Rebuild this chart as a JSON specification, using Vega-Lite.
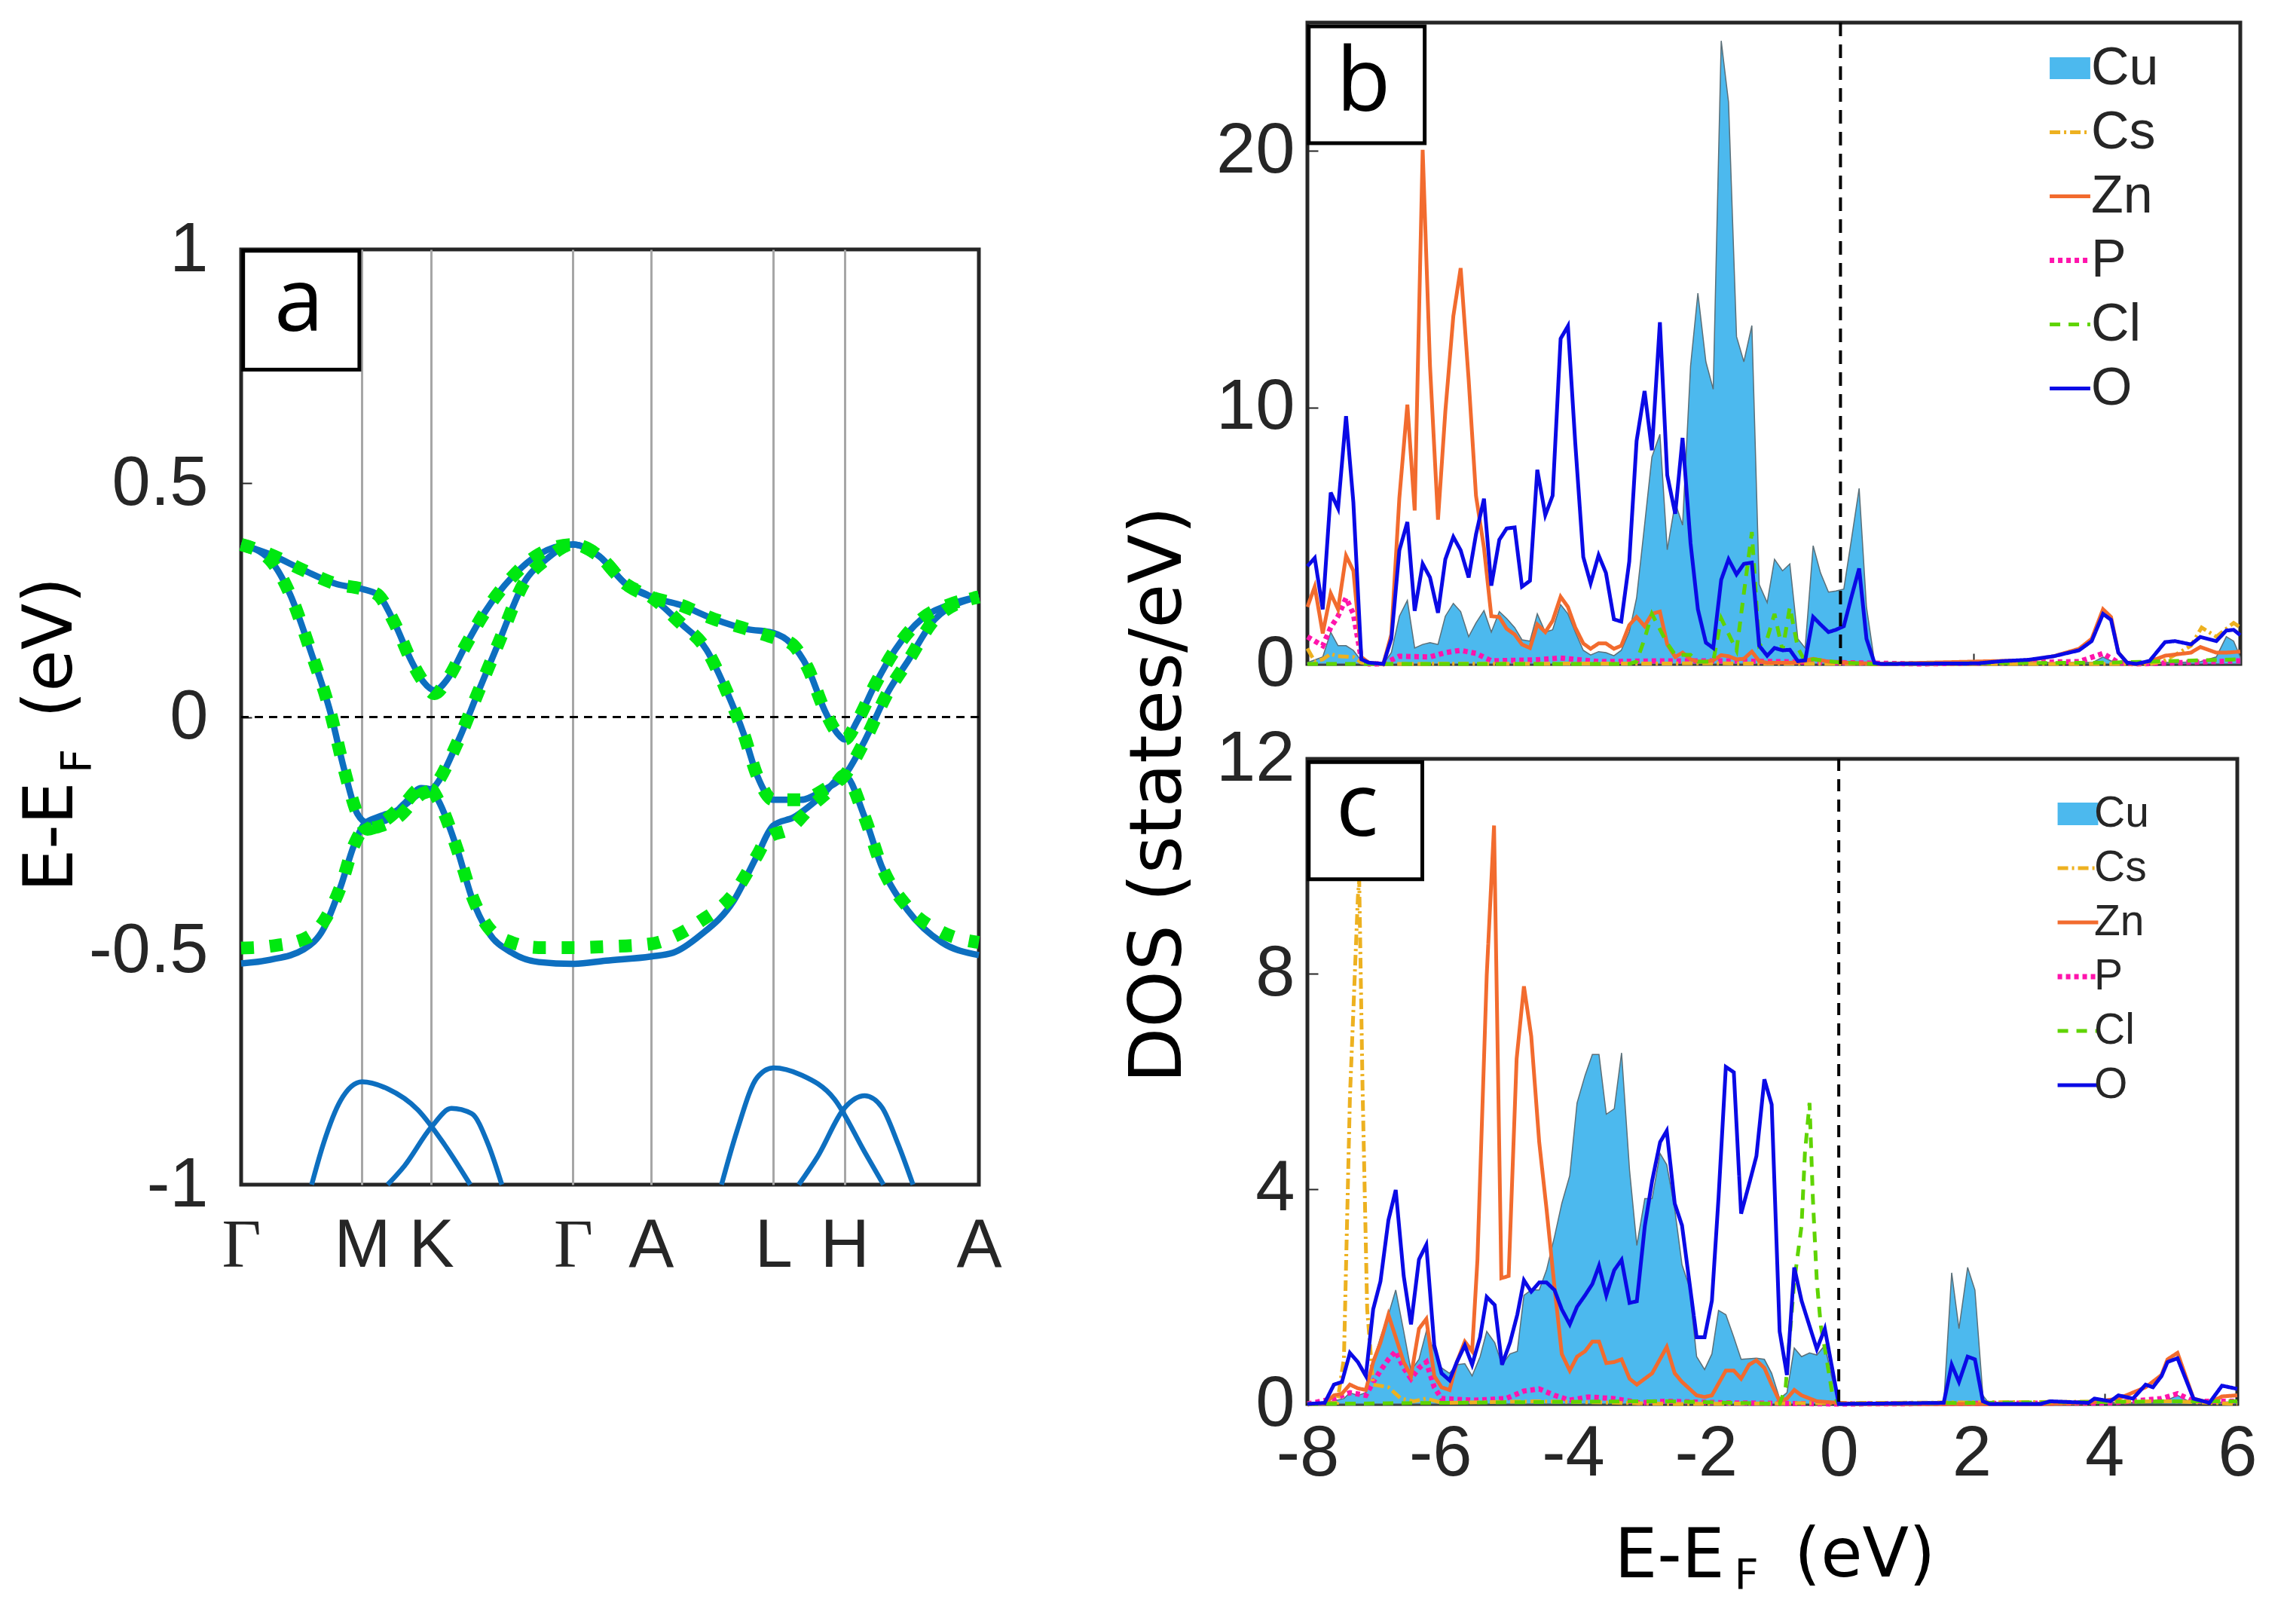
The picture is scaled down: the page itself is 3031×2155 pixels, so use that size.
{
"$schema":"https://vega.github.io/schema/vega-lite/v6.json",
"background":"white",
"padding":{"left":20,"top":25,"right":5,"bottom":5},
"bounds":"flush",
"spacing":1415,
"resolve":{"scale":{"color":"independent","strokeDash":"independent"},"legend":{"color":"independent","strokeDash":"independent"}},
"config":{
"view":{"stroke":"#262626","strokeWidth":5},
"axis":{"grid":false,"domain":false,"ticks":true,"tickColor":"#262626","tickWidth":2,"tickSize":-14,"labelColor":"#262626","labelFont":"Liberation Sans","labelFontSize":94,"labelBound":false,"labelFlush":false,"labelOverlap":false,"titleColor":"#000000","titleFont":"DejaVu Sans","titleFontWeight":"normal"}
},
"datasets":{
"blue":[
{"band":"A","k":0,"E":0.369},{"band":"A","k":43,"E":0.348},{"band":"A","k":93,"E":0.314},{"band":"A","k":143,"E":0.284},{"band":"A","k":180,"E":0.274},{"band":"A","k":203,"E":0.262},{"band":"A","k":228,"E":0.202},{"band":"A","k":253,"E":0.121},{"band":"A","k":271,"E":0.076},{"band":"A","k":288,"E":0.057},{"band":"A","k":308,"E":0.083},{"band":"A","k":333,"E":0.15},{"band":"A","k":363,"E":0.225},{"band":"A","k":403,"E":0.299},{"band":"A","k":443,"E":0.348},{"band":"A","k":494,"E":0.369},{"band":"A","k":533,"E":0.344},{"band":"A","k":573,"E":0.284},{"band":"A","k":610,"E":0.257},{"band":"A","k":653,"E":0.24},{"band":"A","k":703,"E":0.21},{"band":"A","k":753,"E":0.188},{"band":"A","k":792,"E":0.18},{"band":"A","k":818,"E":0.158},{"band":"A","k":843,"E":0.106},{"band":"A","k":868,"E":0.016},{"band":"A","k":888,"E":-0.036},{"band":"A","k":898,"E":-0.048},{"band":"A","k":918,"E":-0.006},{"band":"A","k":943,"E":0.068},{"band":"A","k":973,"E":0.143},{"band":"A","k":1013,"E":0.21},{"band":"A","k":1053,"E":0.24},{"band":"A","k":1098,"E":0.257},
{"band":"B","k":0,"E":0.369},{"band":"B","k":43,"E":0.336},{"band":"B","k":73,"E":0.262},{"band":"B","k":103,"E":0.143},{"band":"B","k":133,"E":0.009},{"band":"B","k":153,"E":-0.11},{"band":"B","k":173,"E":-0.207},{"band":"B","k":188,"E":-0.226},{"band":"B","k":213,"E":-0.222},{"band":"B","k":243,"E":-0.185},{"band":"B","k":268,"E":-0.152},{"band":"B","k":283,"E":-0.155},{"band":"B","k":293,"E":-0.177},{"band":"B","k":323,"E":-0.289},{"band":"B","k":343,"E":-0.385},{"band":"B","k":368,"E":-0.46},{"band":"B","k":403,"E":-0.504},{"band":"B","k":443,"E":-0.524},{"band":"B","k":494,"E":-0.528},{"band":"B","k":543,"E":-0.521},{"band":"B","k":610,"E":-0.512},{"band":"B","k":643,"E":-0.504},{"band":"B","k":683,"E":-0.467},{"band":"B","k":733,"E":-0.393},{"band":"B","k":768,"E":-0.296},{"band":"B","k":792,"E":-0.232},{"band":"B","k":823,"E":-0.214},{"band":"B","k":863,"E":-0.17},{"band":"B","k":898,"E":-0.125},{"band":"B","k":928,"E":-0.214},{"band":"B","k":953,"E":-0.318},{"band":"B","k":993,"E":-0.415},{"band":"B","k":1043,"E":-0.482},{"band":"B","k":1098,"E":-0.509},
{"band":"C","k":0,"E":-0.527},{"band":"C","k":43,"E":-0.519},{"band":"C","k":93,"E":-0.497},{"band":"C","k":123,"E":-0.452},{"band":"C","k":148,"E":-0.363},{"band":"C","k":168,"E":-0.274},{"band":"C","k":183,"E":-0.229},{"band":"C","k":203,"E":-0.214},{"band":"C","k":233,"E":-0.199},{"band":"C","k":268,"E":-0.162},{"band":"C","k":283,"E":-0.155},{"band":"C","k":323,"E":-0.051},{"band":"C","k":353,"E":0.054},{"band":"C","k":383,"E":0.158},{"band":"C","k":423,"E":0.292},{"band":"C","k":453,"E":0.336},{"band":"C","k":494,"E":0.369},{"band":"C","k":533,"E":0.344},{"band":"C","k":573,"E":0.284},{"band":"C","k":610,"E":0.257},{"band":"C","k":653,"E":0.202},{"band":"C","k":693,"E":0.143},{"band":"C","k":723,"E":0.054},{"band":"C","k":748,"E":-0.036},{"band":"C","k":768,"E":-0.125},{"band":"C","k":792,"E":-0.177},{"band":"C","k":833,"E":-0.177},{"band":"C","k":868,"E":-0.155},{"band":"C","k":898,"E":-0.125},{"band":"C","k":928,"E":-0.051},{"band":"C","k":963,"E":0.054},{"band":"C","k":993,"E":0.121},{"band":"C","k":1033,"E":0.21},{"band":"C","k":1098,"E":0.257}
],
"green":[
{"band":"A","k":0,"E":0.369},{"band":"A","k":43,"E":0.348},{"band":"A","k":93,"E":0.314},{"band":"A","k":143,"E":0.284},{"band":"A","k":180,"E":0.274},{"band":"A","k":203,"E":0.262},{"band":"A","k":228,"E":0.202},{"band":"A","k":253,"E":0.121},{"band":"A","k":271,"E":0.076},{"band":"A","k":288,"E":0.05},{"band":"A","k":308,"E":0.083},{"band":"A","k":333,"E":0.15},{"band":"A","k":363,"E":0.225},{"band":"A","k":403,"E":0.299},{"band":"A","k":443,"E":0.348},{"band":"A","k":494,"E":0.369},{"band":"A","k":533,"E":0.344},{"band":"A","k":573,"E":0.284},{"band":"A","k":610,"E":0.257},{"band":"A","k":653,"E":0.24},{"band":"A","k":703,"E":0.21},{"band":"A","k":753,"E":0.188},{"band":"A","k":792,"E":0.17},{"band":"A","k":818,"E":0.158},{"band":"A","k":843,"E":0.106},{"band":"A","k":868,"E":0.016},{"band":"A","k":888,"E":-0.036},{"band":"A","k":898,"E":-0.048},{"band":"A","k":918,"E":-0.006},{"band":"A","k":943,"E":0.068},{"band":"A","k":973,"E":0.143},{"band":"A","k":1013,"E":0.21},{"band":"A","k":1053,"E":0.24},{"band":"A","k":1098,"E":0.257},
{"band":"B","k":0,"E":0.369},{"band":"B","k":43,"E":0.336},{"band":"B","k":73,"E":0.262},{"band":"B","k":103,"E":0.143},{"band":"B","k":133,"E":0.009},{"band":"B","k":153,"E":-0.11},{"band":"B","k":173,"E":-0.207},{"band":"B","k":188,"E":-0.24},{"band":"B","k":213,"E":-0.222},{"band":"B","k":243,"E":-0.185},{"band":"B","k":268,"E":-0.152},{"band":"B","k":283,"E":-0.155},{"band":"B","k":293,"E":-0.177},{"band":"B","k":323,"E":-0.289},{"band":"B","k":343,"E":-0.38},{"band":"B","k":368,"E":-0.45},{"band":"B","k":403,"E":-0.482},{"band":"B","k":443,"E":-0.493},{"band":"B","k":494,"E":-0.493},{"band":"B","k":543,"E":-0.491},{"band":"B","k":610,"E":-0.485},{"band":"B","k":643,"E":-0.47},{"band":"B","k":683,"E":-0.437},{"band":"B","k":733,"E":-0.378},{"band":"B","k":768,"E":-0.296},{"band":"B","k":783,"E":-0.259},{"band":"B","k":818,"E":-0.237},{"band":"B","k":848,"E":-0.192},{"band":"B","k":883,"E":-0.147},{"band":"B","k":898,"E":-0.125},{"band":"B","k":928,"E":-0.214},{"band":"B","k":953,"E":-0.318},{"band":"B","k":993,"E":-0.408},{"band":"B","k":1043,"E":-0.46},{"band":"B","k":1098,"E":-0.482},
{"band":"C","k":0,"E":-0.494},{"band":"C","k":43,"E":-0.49},{"band":"C","k":93,"E":-0.475},{"band":"C","k":123,"E":-0.437},{"band":"C","k":148,"E":-0.363},{"band":"C","k":168,"E":-0.274},{"band":"C","k":183,"E":-0.24},{"band":"C","k":203,"E":-0.235},{"band":"C","k":233,"E":-0.215},{"band":"C","k":268,"E":-0.165},{"band":"C","k":283,"E":-0.155},{"band":"C","k":323,"E":-0.051},{"band":"C","k":353,"E":0.054},{"band":"C","k":383,"E":0.158},{"band":"C","k":423,"E":0.292},{"band":"C","k":453,"E":0.336},{"band":"C","k":494,"E":0.369},{"band":"C","k":533,"E":0.344},{"band":"C","k":573,"E":0.284},{"band":"C","k":610,"E":0.257},{"band":"C","k":653,"E":0.202},{"band":"C","k":693,"E":0.143},{"band":"C","k":723,"E":0.054},{"band":"C","k":748,"E":-0.036},{"band":"C","k":768,"E":-0.125},{"band":"C","k":792,"E":-0.177},{"band":"C","k":833,"E":-0.177},{"band":"C","k":868,"E":-0.155},{"band":"C","k":898,"E":-0.125},{"band":"C","k":928,"E":-0.051},{"band":"C","k":963,"E":0.054},{"band":"C","k":993,"E":0.121},{"band":"C","k":1033,"E":0.21},{"band":"C","k":1098,"E":0.257}
],
"lower":[
{"band":"L1","k":105,"E":-1},{"band":"L1","k":123,"E":-0.91},{"band":"L1","k":148,"E":-0.82},{"band":"L1","k":180,"E":-0.78},{"band":"L1","k":218,"E":-0.795},{"band":"L1","k":263,"E":-0.84},{"band":"L1","k":303,"E":-0.915},{"band":"L1","k":341,"E":-1},
{"band":"L2","k":218,"E":-1},{"band":"L2","k":243,"E":-0.96},{"band":"L2","k":283,"E":-0.877},{"band":"L2","k":313,"E":-0.837},{"band":"L2","k":343,"E":-0.848},{"band":"L2","k":368,"E":-0.915},{"band":"L2","k":388,"E":-1},
{"band":"L3","k":715,"E":-1},{"band":"L3","k":738,"E":-0.885},{"band":"L3","k":768,"E":-0.771},{"band":"L3","k":792,"E":-0.75},{"band":"L3","k":833,"E":-0.765},{"band":"L3","k":883,"E":-0.817},{"band":"L3","k":928,"E":-0.93},{"band":"L3","k":956,"E":-1},
{"band":"L4","k":830,"E":-1},{"band":"L4","k":858,"E":-0.94},{"band":"L4","k":898,"E":-0.836},{"band":"L4","k":928,"E":-0.81},{"band":"L4","k":953,"E":-0.833},{"band":"L4","k":978,"E":-0.914},{"band":"L4","k":1000,"E":-1}
],
"dos_b":[
{"element":"Cu","e":-8,"dos":0.05},{"element":"Cu","e":-7.77,"dos":0.27},{"element":"Cu","e":-7.65,"dos":1.24},{"element":"Cu","e":-7.54,"dos":0.71},{"element":"Cu","e":-7.42,"dos":0.71},{"element":"Cu","e":-7.31,"dos":0.53},{"element":"Cu","e":-7.19,"dos":0.12},{"element":"Cu","e":-7.08,"dos":0.02},{"element":"Cu","e":-6.86,"dos":0},{"element":"Cu","e":-6.74,"dos":0.44},{"element":"Cu","e":-6.62,"dos":1.86},{"element":"Cu","e":-6.5,"dos":2.48},{"element":"Cu","e":-6.39,"dos":0.62},{"element":"Cu","e":-6.27,"dos":0.76},{"element":"Cu","e":-6.16,"dos":0.83},{"element":"Cu","e":-6.04,"dos":0.76},{"element":"Cu","e":-5.93,"dos":1.86},{"element":"Cu","e":-5.81,"dos":2.36},{"element":"Cu","e":-5.7,"dos":2.04},{"element":"Cu","e":-5.58,"dos":1.06},{"element":"Cu","e":-5.47,"dos":1.6},{"element":"Cu","e":-5.35,"dos":2.08},{"element":"Cu","e":-5.24,"dos":1.24},{"element":"Cu","e":-5.12,"dos":2.04},{"element":"Cu","e":-5.01,"dos":1.77},{"element":"Cu","e":-4.89,"dos":1.42},{"element":"Cu","e":-4.78,"dos":0.94},{"element":"Cu","e":-4.66,"dos":0.89},{"element":"Cu","e":-4.55,"dos":1.95},{"element":"Cu","e":-4.43,"dos":1.24},{"element":"Cu","e":-4.32,"dos":1.33},{"element":"Cu","e":-4.2,"dos":2.31},{"element":"Cu","e":-4.09,"dos":1.95},{"element":"Cu","e":-3.98,"dos":1.24},{"element":"Cu","e":-3.86,"dos":0.53},{"element":"Cu","e":-3.75,"dos":0.35},{"element":"Cu","e":-3.63,"dos":0.48},{"element":"Cu","e":-3.52,"dos":0.44},{"element":"Cu","e":-3.4,"dos":0.32},{"element":"Cu","e":-3.29,"dos":0.53},{"element":"Cu","e":-3.17,"dos":1.24},{"element":"Cu","e":-3.06,"dos":2.57},{"element":"Cu","e":-2.94,"dos":5.41},{"element":"Cu","e":-2.83,"dos":8.07},{"element":"Cu","e":-2.71,"dos":8.95},{"element":"Cu","e":-2.6,"dos":4.45},{"element":"Cu","e":-2.48,"dos":6.29},{"element":"Cu","e":-2.37,"dos":5.41},{"element":"Cu","e":-2.25,"dos":11.61},{"element":"Cu","e":-2.14,"dos":14.45},{"element":"Cu","e":-2.02,"dos":11.78},{"element":"Cu","e":-1.91,"dos":10.71},{"element":"Cu","e":-1.79,"dos":24.29},{"element":"Cu","e":-1.68,"dos":21.9},{"element":"Cu","e":-1.56,"dos":12.76},{"element":"Cu","e":-1.45,"dos":11.78},{"element":"Cu","e":-1.33,"dos":13.19},{"element":"Cu","e":-1.22,"dos":3.1},{"element":"Cu","e":-1.1,"dos":2.39},{"element":"Cu","e":-0.99,"dos":4.08},{"element":"Cu","e":-0.87,"dos":3.63},{"element":"Cu","e":-0.76,"dos":3.9},{"element":"Cu","e":-0.64,"dos":0.98},{"element":"Cu","e":-0.53,"dos":0.62},{"element":"Cu","e":-0.41,"dos":4.61},{"element":"Cu","e":-0.3,"dos":3.55},{"element":"Cu","e":-0.18,"dos":2.8},{"element":"Cu","e":-0.07,"dos":2.84},{"element":"Cu","e":0.05,"dos":2.92},{"element":"Cu","e":0.16,"dos":4.78},{"element":"Cu","e":0.28,"dos":6.84},{"element":"Cu","e":0.39,"dos":2.22},{"element":"Cu","e":0.51,"dos":0.09},{"element":"Cu","e":0.61,"dos":0},{"element":"Cu","e":3.77,"dos":0.04},{"element":"Cu","e":3.94,"dos":0.27},{"element":"Cu","e":4.06,"dos":0.12},{"element":"Cu","e":4.44,"dos":0},{"element":"Cu","e":5.4,"dos":0.09},{"element":"Cu","e":5.64,"dos":0.27},{"element":"Cu","e":5.79,"dos":1.06},{"element":"Cu","e":5.9,"dos":0.89},{"element":"Cu","e":6,"dos":0.27},
{"element":"Cs","e":-8,"dos":0.6},{"element":"Cs","e":-7.89,"dos":0.09},{"element":"Cs","e":-7.77,"dos":0.18},{"element":"Cs","e":-7.65,"dos":0.39},{"element":"Cs","e":-7.54,"dos":0.3},{"element":"Cs","e":-7.31,"dos":0.27},{"element":"Cs","e":-7.19,"dos":0.05},{"element":"Cs","e":-7.08,"dos":0},{"element":"Cs","e":-2,"dos":0.02},{"element":"Cs","e":1,"dos":0},{"element":"Cs","e":4.64,"dos":0},{"element":"Cs","e":4.83,"dos":0.09},{"element":"Cs","e":5.02,"dos":0.35},{"element":"Cs","e":5.26,"dos":0.71},{"element":"Cs","e":5.42,"dos":1.42},{"element":"Cs","e":5.64,"dos":1.06},{"element":"Cs","e":5.9,"dos":1.6},{"element":"Cs","e":6,"dos":1.42},
{"element":"Zn","e":-8,"dos":2.22},{"element":"Zn","e":-7.89,"dos":3.01},{"element":"Zn","e":-7.77,"dos":1.19},{"element":"Zn","e":-7.65,"dos":2.75},{"element":"Zn","e":-7.54,"dos":2.13},{"element":"Zn","e":-7.42,"dos":4.22},{"element":"Zn","e":-7.31,"dos":3.63},{"element":"Zn","e":-7.19,"dos":0.27},{"element":"Zn","e":-7.08,"dos":0.05},{"element":"Zn","e":-6.86,"dos":0},{"element":"Zn","e":-6.74,"dos":1.15},{"element":"Zn","e":-6.62,"dos":6.47},{"element":"Zn","e":-6.5,"dos":10.11},{"element":"Zn","e":-6.39,"dos":5.98},{"element":"Zn","e":-6.27,"dos":20.04},{"element":"Zn","e":-6.16,"dos":11.61},{"element":"Zn","e":-6.04,"dos":5.62},{"element":"Zn","e":-5.93,"dos":9.84},{"element":"Zn","e":-5.81,"dos":13.56},{"element":"Zn","e":-5.7,"dos":15.43},{"element":"Zn","e":-5.58,"dos":11.08},{"element":"Zn","e":-5.47,"dos":6.56},{"element":"Zn","e":-5.35,"dos":4.52},{"element":"Zn","e":-5.24,"dos":1.86},{"element":"Zn","e":-5.12,"dos":1.83},{"element":"Zn","e":-5.01,"dos":1.37},{"element":"Zn","e":-4.89,"dos":1.15},{"element":"Zn","e":-4.78,"dos":0.76},{"element":"Zn","e":-4.66,"dos":0.62},{"element":"Zn","e":-4.55,"dos":1.54},{"element":"Zn","e":-4.43,"dos":1.24},{"element":"Zn","e":-4.32,"dos":1.68},{"element":"Zn","e":-4.2,"dos":2.62},{"element":"Zn","e":-4.09,"dos":2.22},{"element":"Zn","e":-3.98,"dos":1.42},{"element":"Zn","e":-3.86,"dos":0.8},{"element":"Zn","e":-3.75,"dos":0.59},{"element":"Zn","e":-3.63,"dos":0.8},{"element":"Zn","e":-3.52,"dos":0.8},{"element":"Zn","e":-3.4,"dos":0.59},{"element":"Zn","e":-3.29,"dos":0.71},{"element":"Zn","e":-3.17,"dos":1.51},{"element":"Zn","e":-3.06,"dos":1.83},{"element":"Zn","e":-2.94,"dos":1.47},{"element":"Zn","e":-2.83,"dos":1.95},{"element":"Zn","e":-2.71,"dos":2.04},{"element":"Zn","e":-2.6,"dos":0.76},{"element":"Zn","e":-2.48,"dos":0.27},{"element":"Zn","e":-2.37,"dos":0.44},{"element":"Zn","e":-2.25,"dos":0.18},{"element":"Zn","e":-2.14,"dos":0.09},{"element":"Zn","e":-2.02,"dos":0.09},{"element":"Zn","e":-1.91,"dos":0.14},{"element":"Zn","e":-1.79,"dos":0.34},{"element":"Zn","e":-1.68,"dos":0.3},{"element":"Zn","e":-1.56,"dos":0.18},{"element":"Zn","e":-1.45,"dos":0.2},{"element":"Zn","e":-1.33,"dos":0.48},{"element":"Zn","e":-1.22,"dos":0.11},{"element":"Zn","e":-1.1,"dos":0.04},{"element":"Zn","e":-0.64,"dos":0.05},{"element":"Zn","e":-0.41,"dos":0.2},{"element":"Zn","e":-0.18,"dos":0.09},{"element":"Zn","e":0.05,"dos":0.05},{"element":"Zn","e":0.39,"dos":0.02},{"element":"Zn","e":0.51,"dos":0},{"element":"Zn","e":2.82,"dos":0.14},{"element":"Zn","e":3.2,"dos":0.3},{"element":"Zn","e":3.58,"dos":0.59},{"element":"Zn","e":3.77,"dos":0.98},{"element":"Zn","e":3.94,"dos":2.13},{"element":"Zn","e":4.06,"dos":1.83},{"element":"Zn","e":4.17,"dos":0.44},{"element":"Zn","e":4.3,"dos":0.05},{"element":"Zn","e":4.44,"dos":0},{"element":"Zn","e":4.64,"dos":0.09},{"element":"Zn","e":4.87,"dos":0.32},{"element":"Zn","e":5.26,"dos":0.44},{"element":"Zn","e":5.4,"dos":0.66},{"element":"Zn","e":5.64,"dos":0.44},{"element":"Zn","e":5.79,"dos":0.44},{"element":"Zn","e":6,"dos":0.48},
{"element":"P","e":-8,"dos":1.06},{"element":"P","e":-7.77,"dos":0.71},{"element":"P","e":-7.65,"dos":1.42},{"element":"P","e":-7.54,"dos":1.86},{"element":"P","e":-7.42,"dos":2.57},{"element":"P","e":-7.31,"dos":1.95},{"element":"P","e":-7.19,"dos":0.18},{"element":"P","e":-7.08,"dos":0},{"element":"P","e":-6.86,"dos":0},{"element":"P","e":-6.62,"dos":0.3},{"element":"P","e":-6.16,"dos":0.27},{"element":"P","e":-5.93,"dos":0.44},{"element":"P","e":-5.7,"dos":0.53},{"element":"P","e":-5.47,"dos":0.41},{"element":"P","e":-5.24,"dos":0.12},{"element":"P","e":-4.56,"dos":0.16},{"element":"P","e":-4.2,"dos":0.23},{"element":"P","e":-3.62,"dos":0.09},{"element":"P","e":-2.66,"dos":0.12},{"element":"P","e":-1.69,"dos":0.12},{"element":"P","e":0,"dos":0.05},{"element":"P","e":1.19,"dos":0},{"element":"P","e":3.58,"dos":0.09},{"element":"P","e":3.94,"dos":0.41},{"element":"P","e":4.17,"dos":0.05},{"element":"P","e":4.44,"dos":0},{"element":"P","e":6,"dos":0.12},
{"element":"Cl","e":-8,"dos":0},{"element":"Cl","e":-3.17,"dos":0},{"element":"Cl","e":-3.06,"dos":0.09},{"element":"Cl","e":-2.94,"dos":0.98},{"element":"Cl","e":-2.83,"dos":1.95},{"element":"Cl","e":-2.6,"dos":0.8},{"element":"Cl","e":-2.48,"dos":0.35},{"element":"Cl","e":-2.25,"dos":0.35},{"element":"Cl","e":-2.14,"dos":0.09},{"element":"Cl","e":-1.91,"dos":0.09},{"element":"Cl","e":-1.79,"dos":1.77},{"element":"Cl","e":-1.56,"dos":0.53},{"element":"Cl","e":-1.45,"dos":2.75},{"element":"Cl","e":-1.33,"dos":5.14},{"element":"Cl","e":-1.22,"dos":0.71},{"element":"Cl","e":-1.1,"dos":0.98},{"element":"Cl","e":-0.99,"dos":1.95},{"element":"Cl","e":-0.87,"dos":0.53},{"element":"Cl","e":-0.76,"dos":2.22},{"element":"Cl","e":-0.64,"dos":0.62},{"element":"Cl","e":-0.53,"dos":0.09},{"element":"Cl","e":-0.41,"dos":0.18},{"element":"Cl","e":0,"dos":0.05},{"element":"Cl","e":0.5,"dos":0},{"element":"Cl","e":4,"dos":0.05},{"element":"Cl","e":6,"dos":0.18},
{"element":"O","e":-8,"dos":3.81},{"element":"O","e":-7.89,"dos":4.13},{"element":"O","e":-7.77,"dos":2.13},{"element":"O","e":-7.65,"dos":6.68},{"element":"O","e":-7.54,"dos":6.06},{"element":"O","e":-7.42,"dos":9.66},{"element":"O","e":-7.31,"dos":6.29},{"element":"O","e":-7.19,"dos":0.18},{"element":"O","e":-7.08,"dos":0.05},{"element":"O","e":-6.86,"dos":0},{"element":"O","e":-6.74,"dos":0.98},{"element":"O","e":-6.62,"dos":4.43},{"element":"O","e":-6.5,"dos":5.53},{"element":"O","e":-6.39,"dos":2.07},{"element":"O","e":-6.27,"dos":3.9},{"element":"O","e":-6.16,"dos":3.37},{"element":"O","e":-6.04,"dos":1.99},{"element":"O","e":-5.93,"dos":4.08},{"element":"O","e":-5.81,"dos":4.95},{"element":"O","e":-5.7,"dos":4.43},{"element":"O","e":-5.58,"dos":3.37},{"element":"O","e":-5.47,"dos":5.05},{"element":"O","e":-5.35,"dos":6.44},{"element":"O","e":-5.24,"dos":3.05},{"element":"O","e":-5.12,"dos":4.84},{"element":"O","e":-5.01,"dos":5.28},{"element":"O","e":-4.89,"dos":5.32},{"element":"O","e":-4.78,"dos":3.01},{"element":"O","e":-4.66,"dos":3.24},{"element":"O","e":-4.55,"dos":7.57},{"element":"O","e":-4.43,"dos":5.8},{"element":"O","e":-4.32,"dos":6.56},{"element":"O","e":-4.2,"dos":12.68},{"element":"O","e":-4.09,"dos":13.17},{"element":"O","e":-3.98,"dos":8.6},{"element":"O","e":-3.86,"dos":4.17},{"element":"O","e":-3.75,"dos":3.14},{"element":"O","e":-3.63,"dos":4.24},{"element":"O","e":-3.52,"dos":3.55},{"element":"O","e":-3.4,"dos":1.74},{"element":"O","e":-3.29,"dos":1.65},{"element":"O","e":-3.17,"dos":3.99},{"element":"O","e":-3.06,"dos":8.69},{"element":"O","e":-2.94,"dos":10.64},{"element":"O","e":-2.83,"dos":8.33},{"element":"O","e":-2.71,"dos":13.32},{"element":"O","e":-2.6,"dos":7.36},{"element":"O","e":-2.48,"dos":5.85},{"element":"O","e":-2.37,"dos":8.81},{"element":"O","e":-2.25,"dos":4.7},{"element":"O","e":-2.14,"dos":2.13},{"element":"O","e":-2.02,"dos":0.83},{"element":"O","e":-1.91,"dos":0.62},{"element":"O","e":-1.79,"dos":3.28},{"element":"O","e":-1.68,"dos":4.08},{"element":"O","e":-1.56,"dos":3.49},{"element":"O","e":-1.45,"dos":3.9},{"element":"O","e":-1.33,"dos":3.95},{"element":"O","e":-1.22,"dos":0.71},{"element":"O","e":-1.1,"dos":0.32},{"element":"O","e":-0.99,"dos":0.62},{"element":"O","e":-0.87,"dos":0.53},{"element":"O","e":-0.76,"dos":0.55},{"element":"O","e":-0.64,"dos":0.11},{"element":"O","e":-0.53,"dos":0.14},{"element":"O","e":-0.41,"dos":1.83},{"element":"O","e":-0.3,"dos":1.54},{"element":"O","e":-0.18,"dos":1.24},{"element":"O","e":-0.07,"dos":1.33},{"element":"O","e":0.05,"dos":1.47},{"element":"O","e":0.16,"dos":2.57},{"element":"O","e":0.28,"dos":3.72},{"element":"O","e":0.39,"dos":0.98},{"element":"O","e":0.51,"dos":0.04},{"element":"O","e":0.61,"dos":0},{"element":"O","e":2.05,"dos":0.02},{"element":"O","e":2.43,"dos":0.11},{"element":"O","e":2.82,"dos":0.16},{"element":"O","e":3.2,"dos":0.3},{"element":"O","e":3.58,"dos":0.53},{"element":"O","e":3.77,"dos":0.89},{"element":"O","e":3.94,"dos":1.95},{"element":"O","e":4.06,"dos":1.72},{"element":"O","e":4.17,"dos":0.44},{"element":"O","e":4.3,"dos":0.05},{"element":"O","e":4.44,"dos":0},{"element":"O","e":4.64,"dos":0.12},{"element":"O","e":4.87,"dos":0.85},{"element":"O","e":5.02,"dos":0.89},{"element":"O","e":5.26,"dos":0.76},{"element":"O","e":5.4,"dos":1.05},{"element":"O","e":5.64,"dos":0.89},{"element":"O","e":5.79,"dos":1.3},{"element":"O","e":5.9,"dos":1.33},{"element":"O","e":6,"dos":1.12}
],
"dos_c":[
{"element":"Cu","e":-8,"dos":0},{"element":"Cu","e":-7.74,"dos":0.02},{"element":"Cu","e":-7.45,"dos":0.1},{"element":"Cu","e":-7.36,"dos":0.21},{"element":"Cu","e":-7.24,"dos":0.16},{"element":"Cu","e":-7.12,"dos":0.21},{"element":"Cu","e":-7.01,"dos":0.78},{"element":"Cu","e":-6.9,"dos":1.24},{"element":"Cu","e":-6.78,"dos":1.66},{"element":"Cu","e":-6.67,"dos":2.12},{"element":"Cu","e":-6.55,"dos":1.35},{"element":"Cu","e":-6.44,"dos":0.62},{"element":"Cu","e":-6.32,"dos":0.83},{"element":"Cu","e":-6.21,"dos":1.35},{"element":"Cu","e":-6.09,"dos":0.98},{"element":"Cu","e":-5.98,"dos":0.67},{"element":"Cu","e":-5.86,"dos":0.57},{"element":"Cu","e":-5.75,"dos":0.73},{"element":"Cu","e":-5.63,"dos":0.75},{"element":"Cu","e":-5.52,"dos":0.52},{"element":"Cu","e":-5.4,"dos":0.88},{"element":"Cu","e":-5.3,"dos":1.35},{"element":"Cu","e":-5.18,"dos":1.14},{"element":"Cu","e":-5.07,"dos":0.73},{"element":"Cu","e":-4.95,"dos":0.93},{"element":"Cu","e":-4.84,"dos":0.98},{"element":"Cu","e":-4.74,"dos":2.02},{"element":"Cu","e":-4.63,"dos":2.12},{"element":"Cu","e":-4.51,"dos":2.12},{"element":"Cu","e":-4.4,"dos":2.49},{"element":"Cu","e":-4.28,"dos":3.11},{"element":"Cu","e":-4.17,"dos":3.73},{"element":"Cu","e":-4.05,"dos":4.25},{"element":"Cu","e":-3.94,"dos":5.6},{"element":"Cu","e":-3.82,"dos":6.11},{"element":"Cu","e":-3.71,"dos":6.5},{"element":"Cu","e":-3.61,"dos":6.5},{"element":"Cu","e":-3.5,"dos":5.39},{"element":"Cu","e":-3.38,"dos":5.49},{"element":"Cu","e":-3.27,"dos":6.53},{"element":"Cu","e":-3.15,"dos":4.35},{"element":"Cu","e":-3.04,"dos":2.95},{"element":"Cu","e":-2.92,"dos":3.82},{"element":"Cu","e":-2.81,"dos":3.82},{"element":"Cu","e":-2.69,"dos":4.66},{"element":"Cu","e":-2.59,"dos":4.45},{"element":"Cu","e":-2.47,"dos":3.63},{"element":"Cu","e":-2.36,"dos":2.59},{"element":"Cu","e":-2.25,"dos":2.18},{"element":"Cu","e":-2.14,"dos":0.88},{"element":"Cu","e":-2.02,"dos":0.64},{"element":"Cu","e":-1.91,"dos":0.93},{"element":"Cu","e":-1.81,"dos":1.74},{"element":"Cu","e":-1.7,"dos":1.66},{"element":"Cu","e":-1.58,"dos":1.24},{"element":"Cu","e":-1.47,"dos":0.83},{"element":"Cu","e":-1.24,"dos":0.85},{"element":"Cu","e":-1.12,"dos":0.83},{"element":"Cu","e":-1.01,"dos":0.57},{"element":"Cu","e":-0.89,"dos":0.1},{"element":"Cu","e":-0.78,"dos":0.21},{"element":"Cu","e":-0.67,"dos":1.04},{"element":"Cu","e":-0.56,"dos":0.88},{"element":"Cu","e":-0.44,"dos":0.95},{"element":"Cu","e":-0.33,"dos":0.91},{"element":"Cu","e":-0.21,"dos":1.09},{"element":"Cu","e":-0.1,"dos":0.47},{"element":"Cu","e":0,"dos":0.05},{"element":"Cu","e":0.12,"dos":0},{"element":"Cu","e":1.58,"dos":0},{"element":"Cu","e":1.7,"dos":2.44},{"element":"Cu","e":1.81,"dos":1.4},{"element":"Cu","e":1.94,"dos":2.54},{"element":"Cu","e":2.05,"dos":2.12},{"element":"Cu","e":2.17,"dos":0.16},{"element":"Cu","e":2.27,"dos":0},{"element":"Cu","e":4.86,"dos":0.02},{"element":"Cu","e":5.1,"dos":0.16},{"element":"Cu","e":5.34,"dos":0},{"element":"Cu","e":6,"dos":0.05},
{"element":"Cs","e":-8,"dos":0},{"element":"Cs","e":-7.55,"dos":0.02},{"element":"Cs","e":-7.45,"dos":0.85},{"element":"Cs","e":-7.36,"dos":5.7},{"element":"Cs","e":-7.24,"dos":9.43},{"element":"Cs","e":-7.22,"dos":9.74},{"element":"Cs","e":-7.17,"dos":5.9},{"element":"Cs","e":-7.1,"dos":1.76},{"element":"Cs","e":-7.01,"dos":0.36},{"element":"Cs","e":-6.78,"dos":0.31},{"element":"Cs","e":-6.59,"dos":0.1},{"element":"Cs","e":-6.4,"dos":0.05},{"element":"Cs","e":-6.21,"dos":0.1},{"element":"Cs","e":-5.97,"dos":0.02},{"element":"Cs","e":-4.5,"dos":0.05},{"element":"Cs","e":-2.5,"dos":0},{"element":"Cs","e":5,"dos":0.05},{"element":"Cs","e":6,"dos":0},
{"element":"Zn","e":-8,"dos":0},{"element":"Zn","e":-7.74,"dos":0.01},{"element":"Zn","e":-7.6,"dos":0.16},{"element":"Zn","e":-7.48,"dos":0.19},{"element":"Zn","e":-7.36,"dos":0.36},{"element":"Zn","e":-7.24,"dos":0.29},{"element":"Zn","e":-7.12,"dos":0.26},{"element":"Zn","e":-7.01,"dos":0.78},{"element":"Zn","e":-6.9,"dos":1.14},{"element":"Zn","e":-6.78,"dos":1.66},{"element":"Zn","e":-6.67,"dos":1.24},{"element":"Zn","e":-6.55,"dos":0.78},{"element":"Zn","e":-6.44,"dos":0.52},{"element":"Zn","e":-6.32,"dos":1.4},{"element":"Zn","e":-6.21,"dos":1.58},{"element":"Zn","e":-6.09,"dos":0.52},{"element":"Zn","e":-5.98,"dos":0.31},{"element":"Zn","e":-5.86,"dos":0.26},{"element":"Zn","e":-5.75,"dos":0.78},{"element":"Zn","e":-5.63,"dos":1.16},{"element":"Zn","e":-5.52,"dos":0.98},{"element":"Zn","e":-5.44,"dos":2.68},{"element":"Zn","e":-5.3,"dos":7.98},{"element":"Zn","e":-5.19,"dos":10.76},{"element":"Zn","e":-5.08,"dos":2.34},{"element":"Zn","e":-4.97,"dos":2.38},{"element":"Zn","e":-4.85,"dos":6.42},{"element":"Zn","e":-4.74,"dos":7.77},{"element":"Zn","e":-4.63,"dos":6.84},{"element":"Zn","e":-4.51,"dos":4.87},{"element":"Zn","e":-4.4,"dos":3.63},{"element":"Zn","e":-4.28,"dos":2.18},{"element":"Zn","e":-4.17,"dos":0.93},{"element":"Zn","e":-4.05,"dos":0.62},{"element":"Zn","e":-3.94,"dos":0.88},{"element":"Zn","e":-3.82,"dos":0.98},{"element":"Zn","e":-3.71,"dos":1.16},{"element":"Zn","e":-3.61,"dos":1.16},{"element":"Zn","e":-3.5,"dos":0.76},{"element":"Zn","e":-3.38,"dos":0.78},{"element":"Zn","e":-3.27,"dos":0.83},{"element":"Zn","e":-3.15,"dos":0.47},{"element":"Zn","e":-3.04,"dos":0.36},{"element":"Zn","e":-2.92,"dos":0.47},{"element":"Zn","e":-2.81,"dos":0.57},{"element":"Zn","e":-2.59,"dos":1.06},{"element":"Zn","e":-2.47,"dos":0.57},{"element":"Zn","e":-2.36,"dos":0.41},{"element":"Zn","e":-2.14,"dos":0.16},{"element":"Zn","e":-2.02,"dos":0.13},{"element":"Zn","e":-1.91,"dos":0.16},{"element":"Zn","e":-1.7,"dos":0.62},{"element":"Zn","e":-1.58,"dos":0.62},{"element":"Zn","e":-1.47,"dos":0.47},{"element":"Zn","e":-1.35,"dos":0.73},{"element":"Zn","e":-1.24,"dos":0.81},{"element":"Zn","e":-1.12,"dos":0.67},{"element":"Zn","e":-1.01,"dos":0.36},{"element":"Zn","e":-0.89,"dos":0.05},{"element":"Zn","e":-0.78,"dos":0.1},{"element":"Zn","e":-0.67,"dos":0.26},{"element":"Zn","e":-0.56,"dos":0.16},{"element":"Zn","e":-0.33,"dos":0.05},{"element":"Zn","e":0,"dos":0.02},{"element":"Zn","e":0.26,"dos":0},{"element":"Zn","e":3.04,"dos":0},{"element":"Zn","e":3.76,"dos":0.02},{"element":"Zn","e":4.21,"dos":0.1},{"element":"Zn","e":4.62,"dos":0.31},{"element":"Zn","e":4.86,"dos":0.54},{"element":"Zn","e":4.95,"dos":0.83},{"element":"Zn","e":5.1,"dos":0.95},{"element":"Zn","e":5.34,"dos":0.1},{"element":"Zn","e":5.58,"dos":0.02},{"element":"Zn","e":5.77,"dos":0.14},{"element":"Zn","e":6,"dos":0.16},
{"element":"P","e":-8,"dos":0},{"element":"P","e":-7.6,"dos":0.1},{"element":"P","e":-7.36,"dos":0.21},{"element":"P","e":-7.12,"dos":0.16},{"element":"P","e":-7.01,"dos":0.41},{"element":"P","e":-6.9,"dos":0.62},{"element":"P","e":-6.78,"dos":0.83},{"element":"P","e":-6.67,"dos":0.98},{"element":"P","e":-6.55,"dos":0.67},{"element":"P","e":-6.44,"dos":0.47},{"element":"P","e":-6.32,"dos":0.67},{"element":"P","e":-6.21,"dos":0.78},{"element":"P","e":-6.09,"dos":0.31},{"element":"P","e":-5.98,"dos":0.1},{"element":"P","e":-5.49,"dos":0.07},{"element":"P","e":-5.01,"dos":0.1},{"element":"P","e":-4.74,"dos":0.24},{"element":"P","e":-4.51,"dos":0.28},{"element":"P","e":-4.28,"dos":0.16},{"element":"P","e":-4.05,"dos":0.07},{"element":"P","e":-3.77,"dos":0.13},{"element":"P","e":-3.38,"dos":0.1},{"element":"P","e":-3,"dos":0.02},{"element":"P","e":-2.62,"dos":0.05},{"element":"P","e":-1.66,"dos":0.02},{"element":"P","e":0,"dos":0},{"element":"P","e":4.09,"dos":0.02},{"element":"P","e":4.86,"dos":0.1},{"element":"P","e":5.1,"dos":0.19},{"element":"P","e":5.34,"dos":0.05},{"element":"P","e":6,"dos":0.05},
{"element":"Cl","e":-8,"dos":0},{"element":"Cl","e":-3,"dos":0.05},{"element":"Cl","e":-2.6,"dos":0.05},{"element":"Cl","e":-0.89,"dos":0},{"element":"Cl","e":-0.8,"dos":0.31},{"element":"Cl","e":-0.67,"dos":2.28},{"element":"Cl","e":-0.56,"dos":3.32},{"element":"Cl","e":-0.51,"dos":4.66},{"element":"Cl","e":-0.44,"dos":5.6},{"element":"Cl","e":-0.39,"dos":3.83},{"element":"Cl","e":-0.33,"dos":2.28},{"element":"Cl","e":-0.27,"dos":1.45},{"element":"Cl","e":-0.21,"dos":1.04},{"element":"Cl","e":-0.1,"dos":0.21},{"element":"Cl","e":0,"dos":0},{"element":"Cl","e":5.1,"dos":0.05},{"element":"Cl","e":6,"dos":0.05},
{"element":"O","e":-8,"dos":0},{"element":"O","e":-7.74,"dos":0.02},{"element":"O","e":-7.6,"dos":0.36},{"element":"O","e":-7.48,"dos":0.41},{"element":"O","e":-7.36,"dos":0.95},{"element":"O","e":-7.24,"dos":0.78},{"element":"O","e":-7.12,"dos":0.52},{"element":"O","e":-7.01,"dos":1.76},{"element":"O","e":-6.9,"dos":2.28},{"element":"O","e":-6.78,"dos":3.42},{"element":"O","e":-6.67,"dos":3.98},{"element":"O","e":-6.55,"dos":2.38},{"element":"O","e":-6.44,"dos":1.48},{"element":"O","e":-6.32,"dos":2.69},{"element":"O","e":-6.21,"dos":2.96},{"element":"O","e":-6.09,"dos":1.09},{"element":"O","e":-5.98,"dos":0.57},{"element":"O","e":-5.86,"dos":0.44},{"element":"O","e":-5.75,"dos":0.78},{"element":"O","e":-5.63,"dos":1.09},{"element":"O","e":-5.52,"dos":0.73},{"element":"O","e":-5.4,"dos":1.24},{"element":"O","e":-5.3,"dos":1.99},{"element":"O","e":-5.18,"dos":1.84},{"element":"O","e":-5.07,"dos":0.73},{"element":"O","e":-4.95,"dos":1.14},{"element":"O","e":-4.84,"dos":1.66},{"element":"O","e":-4.74,"dos":2.3},{"element":"O","e":-4.63,"dos":2.09},{"element":"O","e":-4.51,"dos":2.26},{"element":"O","e":-4.4,"dos":2.26},{"element":"O","e":-4.28,"dos":2.12},{"element":"O","e":-4.17,"dos":1.76},{"element":"O","e":-4.05,"dos":1.48},{"element":"O","e":-3.94,"dos":1.81},{"element":"O","e":-3.82,"dos":2.02},{"element":"O","e":-3.71,"dos":2.23},{"element":"O","e":-3.61,"dos":2.57},{"element":"O","e":-3.5,"dos":2.02},{"element":"O","e":-3.38,"dos":2.49},{"element":"O","e":-3.27,"dos":2.68},{"element":"O","e":-3.15,"dos":1.88},{"element":"O","e":-3.04,"dos":1.91},{"element":"O","e":-2.92,"dos":3.31},{"element":"O","e":-2.81,"dos":4.15},{"element":"O","e":-2.69,"dos":4.87},{"element":"O","e":-2.59,"dos":5.08},{"element":"O","e":-2.47,"dos":3.73},{"element":"O","e":-2.36,"dos":3.32},{"element":"O","e":-2.25,"dos":2.28},{"element":"O","e":-2.14,"dos":1.24},{"element":"O","e":-2.02,"dos":1.24},{"element":"O","e":-1.91,"dos":1.92},{"element":"O","e":-1.81,"dos":3.84},{"element":"O","e":-1.7,"dos":6.27},{"element":"O","e":-1.58,"dos":6.17},{"element":"O","e":-1.47,"dos":3.54},{"element":"O","e":-1.35,"dos":4.09},{"element":"O","e":-1.24,"dos":4.61},{"element":"O","e":-1.12,"dos":6.04},{"element":"O","e":-1.01,"dos":5.57},{"element":"O","e":-0.89,"dos":1.35},{"element":"O","e":-0.78,"dos":0.54},{"element":"O","e":-0.67,"dos":2.54},{"element":"O","e":-0.56,"dos":1.92},{"element":"O","e":-0.44,"dos":1.45},{"element":"O","e":-0.33,"dos":1.02},{"element":"O","e":-0.21,"dos":1.4},{"element":"O","e":-0.1,"dos":0.67},{"element":"O","e":0,"dos":0},{"element":"O","e":1.58,"dos":0.02},{"element":"O","e":1.7,"dos":0.73},{"element":"O","e":1.81,"dos":0.41},{"element":"O","e":1.94,"dos":0.88},{"element":"O","e":2.05,"dos":0.83},{"element":"O","e":2.17,"dos":0.05},{"element":"O","e":2.27,"dos":0},{"element":"O","e":3.04,"dos":0},{"element":"O","e":3.18,"dos":0.05},{"element":"O","e":3.76,"dos":0.02},{"element":"O","e":3.85,"dos":0.1},{"element":"O","e":4.09,"dos":0.05},{"element":"O","e":4.21,"dos":0.16},{"element":"O","e":4.43,"dos":0.1},{"element":"O","e":4.62,"dos":0.36},{"element":"O","e":4.73,"dos":0.31},{"element":"O","e":4.86,"dos":0.52},{"element":"O","e":4.95,"dos":0.78},{"element":"O","e":5.1,"dos":0.85},{"element":"O","e":5.34,"dos":0.1},{"element":"O","e":5.58,"dos":0.02},{"element":"O","e":5.77,"dos":0.34},{"element":"O","e":6,"dos":0.28}
]
},
"hconcat":[
{"bounds":"flush","spacing":50,"vconcat":[
{"width":979,"height":251,"view":{"stroke":null},"data":{"values":[{}]},"mark":{"type":"text"},"encoding":{}},
{"width":979,"height":1241,
"encoding":{
"x":{"field":"k","type":"quantitative","scale":{"domain":[0,1098],"nice":false,"zero":false},
"axis":{"title":null,"values":[0,180,283,494,610,792,898,1098],"grid":true,"gridColor":"#a6a6a6","gridWidth":3,"gridOpacity":{"condition":{"test":"datum.value==0||datum.value==1098","value":0},"value":1},"tickSize":0,"labelPadding":37,"labelFontSize":90,
"labelExpr":"{'0':'Γ','180':'M','283':'K','494':'Γ','610':'A','792':'L','898':'H','1098':'A'}[datum.value]",
"labelFont":{"condition":{"test":"datum.value==0||datum.value==494","value":"Liberation Serif"},"value":"Liberation Sans"}}},
"y":{"field":"E","type":"quantitative","scale":{"domain":[-1,1],"nice":false,"zero":false},
"axis":{"title":"E-E","titleFontSize":90,"titleX":-252,"titleY":852,"titleAngle":270,"titleAlign":"left","titleBaseline":"middle","values":[-1,-0.5,0,0.5,1],"labelFontSize":92,"labelPadding":58,"labelExpr":"datum.value+''"}}
},
"layer":[
{"data":{"values":[{"E":0}]},"mark":{"type":"rule","color":"#000000","strokeWidth":3,"strokeDash":[11,8]},"encoding":{"x":null}},
{"data":{"name":"blue"},"mark":{"type":"line","color":"#0d6fc0","strokeWidth":8.5,"interpolate":"monotone"},"encoding":{"detail":{"field":"band"}}},
{"data":{"name":"lower"},"mark":{"type":"line","color":"#0d6fc0","strokeWidth":6.5,"interpolate":"monotone"},"encoding":{"detail":{"field":"band"}}},
{"data":{"name":"green"},"mark":{"type":"line","color":"#00e810","strokeWidth":17,"strokeDash":[17,21],"interpolate":"monotone"},"encoding":{"detail":{"field":"band"}}},
{"data":{"values":[{"k":3,"k2":176,"E":0.997,"E2":0.743}]},"mark":{"type":"rect","fill":"white","stroke":"#000000","strokeWidth":5},"encoding":{"x2":{"field":"k2"},"y2":{"field":"E2"}}},
{"data":{"values":[{"k":86,"E":0.87}]},"mark":{"type":"text","text":"a","font":"Open Sans","fontSize":118,"color":"#000000","baseline":"middle","dy":-8}},
{"data":{"values":[{"k":-243,"E":-0.094}]},"mark":{"type":"text","text":"F","font":"DejaVu Sans","fontSize":56,"color":"#000000","angle":270,"baseline":"middle"}},
{"data":{"values":[{"k":-283,"E":-0.002}]},"mark":{"type":"text","text":"(eV)","font":"DejaVu Sans","fontSize":90,"color":"#000000","angle":270,"align":"left","baseline":"middle"}}
]}
]},
{"bounds":"flush","spacing":126,
"resolve":{"scale":{"color":"independent","strokeDash":"independent"},"legend":{"color":"independent","strokeDash":"independent"}},
"vconcat":[
{"width":1238,"height":851,"data":{"name":"dos_b"},
"encoding":{
"x":{"field":"e","type":"quantitative","scale":{"domain":[-8,6],"nice":false,"zero":false},"axis":{"title":null,"values":[-8,-6,-4,-2,0,2,4,6],"labels":false}},
"y":{"field":"dos","type":"quantitative","scale":{"domain":[0,25],"nice":false,"zero":false},"axis":{"title":null,"values":[0,10,20],"labelPadding":31}},
"color":{"field":"element","type":"nominal","scale":{"domain":["Cu","Cs","Zn","P","Cl","O"],"range":["#4cb9ee","#edb120","#f26b2e","#ff14ac","#5fd400","#0a0ae6"]},
"legend":{"title":null,"orient":"none","legendX":977,"legendY":18,"symbolType":"stroke","symbolSize":2900,"symbolStrokeWidth":5,"labelFont":"Liberation Sans","labelFontSize":70,"labelColor":"#262626","labelOffset":-7,"clipHeight":85,"rowPadding":0,"padding":0,"encode":{"symbols":{"update":{"strokeWidth":{"signal":"datum.value==='Cu'?29:datum.value==='P'?7:5"}}}}}},
"strokeDash":{"field":"element","type":"nominal","scale":{"domain":["Cu","Cs","Zn","P","Cl","O"],"range":[[1,0],[14,5,3,5],[1,0],[6,5],[14,11],[1,0]]},
"legend":{"title":null,"orient":"none","legendX":977,"legendY":18,"symbolType":"stroke","symbolSize":2900,"symbolStrokeWidth":5,"labelFont":"Liberation Sans","labelFontSize":70,"labelColor":"#262626","labelOffset":-7,"clipHeight":85,"rowPadding":0,"padding":0,"encode":{"symbols":{"update":{"strokeWidth":{"signal":"datum.value==='Cu'?29:datum.value==='P'?7:5"}}}}}}
},
"layer":[
{"transform":[{"filter":"datum.element=='Cu'"}],"mark":{"type":"area","fill":"#4cb9ee","stroke":"#5a6f78","strokeWidth":1.5},"encoding":{"color":null,"strokeDash":null}},
{"transform":[{"filter":"datum.element=='P'"}],"mark":{"type":"line","strokeWidth":7}},
{"transform":[{"filter":"datum.element!='Cu'&&datum.element!='P'"}],"mark":{"type":"line","strokeWidth":5}},
{"data":{"values":[{"e":0}]},"mark":{"type":"rule","color":"#000000","strokeWidth":4,"strokeDash":[18,11]},"encoding":{"y":null,"color":null,"strokeDash":null}},
{"data":{"values":[{"e":-7.98,"e2":-6.24,"dos":24.85,"dos2":20.3}]},"mark":{"type":"rect","fill":"white","stroke":"#000000","strokeWidth":5},"encoding":{"x2":{"field":"e2"},"y2":{"field":"dos2"},"color":null,"strokeDash":null}},
{"data":{"values":[{"e":-7.16,"dos":22.35}]},"mark":{"type":"text","text":"b","font":"Open Sans","fontSize":118,"color":"#000000","baseline":"middle","dy":-8},"encoding":{"color":null,"strokeDash":null}}
]},
{"width":1234,"height":856,"data":{"name":"dos_c"},
"encoding":{
"x":{"field":"e","type":"quantitative","scale":{"domain":[-8,6],"nice":false,"zero":false},"axis":{"title":"E-E","titleFontSize":90,"titleX":407,"titleY":229,"titleAlign":"left","titleBaseline":"alphabetic","values":[-8,-6,-4,-2,0,2,4,6],"labelPadding":34,"labelExpr":"datum.value+''"}},
"y":{"field":"dos","type":"quantitative","scale":{"domain":[0,12],"nice":false,"zero":false},"axis":{"title":"DOS (states/eV)","titleFontSize":96,"titleX":-198,"titleY":47,"titleAngle":270,"titleAlign":"center","titleBaseline":"middle","values":[0,4,8,12],"labelPadding":31}},
"color":{"field":"element","type":"nominal","scale":{"domain":["Cu","Cs","Zn","P","Cl","O"],"range":["#4cb9ee","#edb120","#f26b2e","#ff14ac","#5fd400","#0a0ae6"]},
"legend":{"title":null,"orient":"none","legendX":994,"legendY":37,"symbolType":"stroke","symbolSize":2900,"symbolStrokeWidth":5,"labelFont":"Liberation Sans","labelFontSize":57,"labelColor":"#262626","labelOffset":-7,"clipHeight":72,"rowPadding":0,"padding":0,"encode":{"symbols":{"update":{"strokeWidth":{"signal":"datum.value==='Cu'?30:datum.value==='P'?7:5"}}}}}},
"strokeDash":{"field":"element","type":"nominal","scale":{"domain":["Cu","Cs","Zn","P","Cl","O"],"range":[[1,0],[14,5,3,5],[1,0],[6,5],[14,11],[1,0]]},
"legend":{"title":null,"orient":"none","legendX":994,"legendY":37,"symbolType":"stroke","symbolSize":2900,"symbolStrokeWidth":5,"labelFont":"Liberation Sans","labelFontSize":57,"labelColor":"#262626","labelOffset":-7,"clipHeight":72,"rowPadding":0,"padding":0,"encode":{"symbols":{"update":{"strokeWidth":{"signal":"datum.value==='Cu'?30:datum.value==='P'?7:5"}}}}}}
},
"layer":[
{"transform":[{"filter":"datum.element=='Cu'"}],"mark":{"type":"area","fill":"#4cb9ee","stroke":"#5a6f78","strokeWidth":1.5},"encoding":{"color":null,"strokeDash":null}},
{"transform":[{"filter":"datum.element=='P'"}],"mark":{"type":"line","strokeWidth":7}},
{"transform":[{"filter":"datum.element!='Cu'&&datum.element!='P'"}],"mark":{"type":"line","strokeWidth":5}},
{"data":{"values":[{"e":0}]},"mark":{"type":"rule","color":"#000000","strokeWidth":4,"strokeDash":[16,11]},"encoding":{"y":null,"color":null,"strokeDash":null}},
{"data":{"values":[{"e":-7.98,"e2":-6.27,"dos":11.94,"dos2":9.76}]},"mark":{"type":"rect","fill":"white","stroke":"#000000","strokeWidth":5},"encoding":{"x2":{"field":"e2"},"y2":{"field":"dos2"},"color":null,"strokeDash":null}},
{"data":{"values":[{"e":-7.25,"dos":10.95}]},"mark":{"type":"text","text":"c","font":"Open Sans","fontSize":118,"color":"#000000","baseline":"middle","dy":-8},"encoding":{"color":null,"strokeDash":null}},
{"data":{"values":[{"e":-1.39,"dos":-3.2}]},"mark":{"type":"text","text":"F","font":"DejaVu Sans","fontSize":56,"color":"#000000"},"encoding":{"color":null,"strokeDash":null}},
{"data":{"values":[{"e":-0.67,"dos":-3.21}]},"mark":{"type":"text","text":"(eV)","font":"DejaVu Sans","fontSize":90,"color":"#000000","align":"left","baseline":"alphabetic"},"encoding":{"color":null,"strokeDash":null}}
]}
]}
]
}
